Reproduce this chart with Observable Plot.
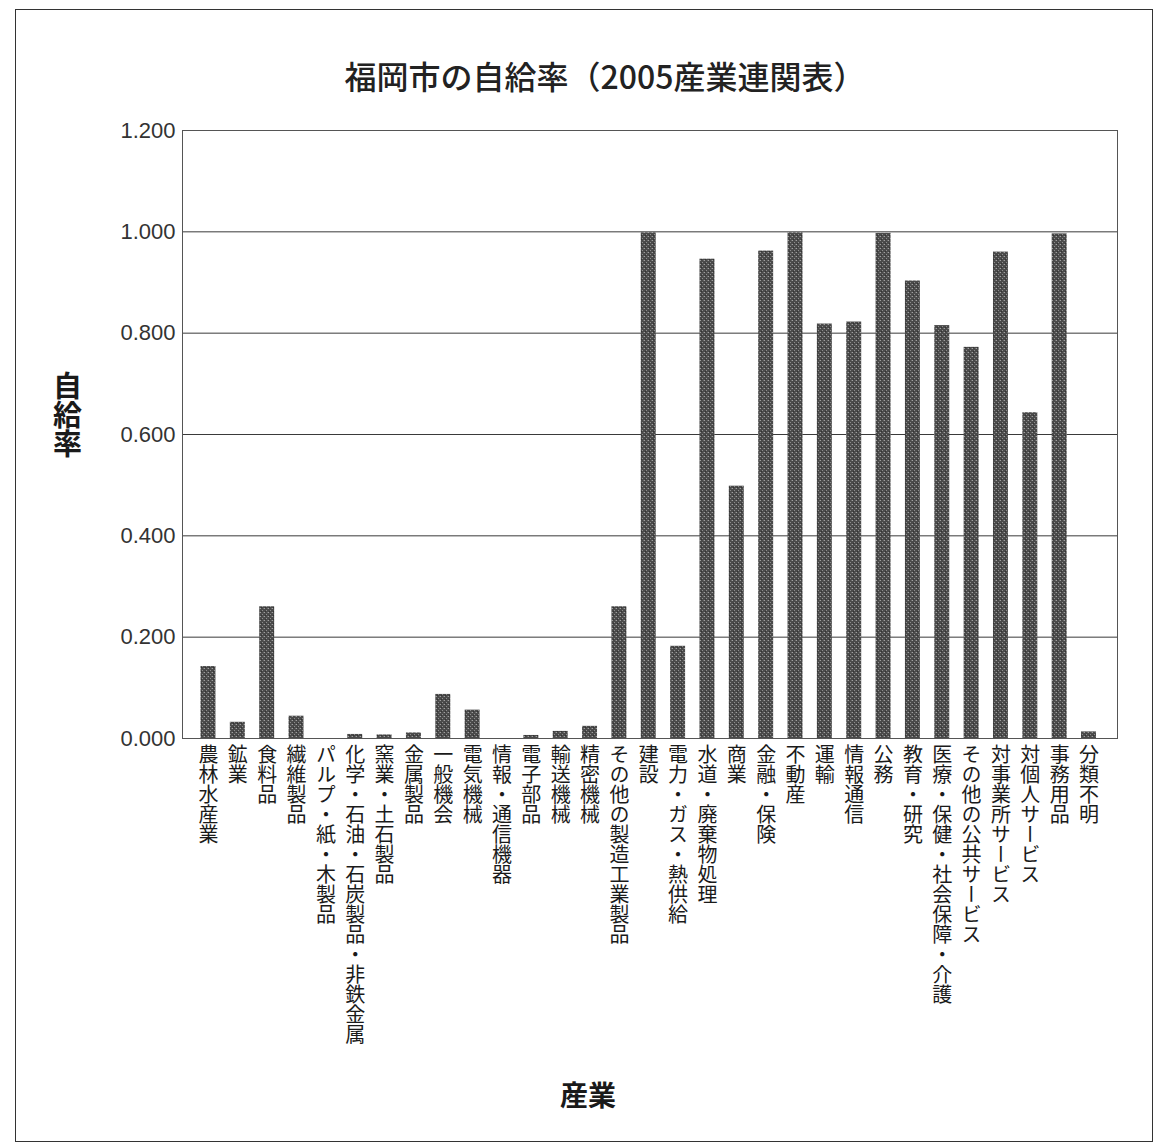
<!DOCTYPE html>
<html>
<head>
<meta charset="utf-8">
<script src="https://cdn.jsdelivr.net/npm/d3@7"></script>
<script src="https://cdn.jsdelivr.net/npm/@observablehq/plot@0.6"></script>
<style>
  html, body { margin: 0; padding: 0; background: #fff; }
  #wrap { position: relative; width: 1156px; height: 1142px; overflow: hidden; }
  #border { position: absolute; left: 15px; top: 9px; width: 1138px; height: 1133px;
            border: 1.5px solid #333; box-sizing: border-box; pointer-events: none; }
</style>
</head>
<body>
<div id="wrap"><div id="border"></div></div>
<script>
// 産業部門（2005年産業連関表の部門分類）
const industries = [
  "農林水産業", "鉱業", "食料品", "繊維製品", "パルプ・紙・木製品",
  "化学・石油・石炭製品・非鉄金属", "窯業・土石製品", "金属製品", "一般機会", "電気機械",
  "情報・通信機器", "電子部品", "輸送機械", "精密機械", "その他の製造工業製品",
  "建設", "電力・ガス・熱供給", "水道・廃棄物処理", "商業", "金融・保険",
  "不動産", "運輸", "情報通信", "公務", "教育・研究",
  "医療・保健・社会保障・介護", "その他の公共サービス", "対事業所サービス", "対個人サービス", "事務用品",
  "分類不明"
];

// 福岡市の自給率
const selfSufficiency = [
  0.142, 0.032, 0.260, 0.044, 0.000,
  0.008, 0.007, 0.011, 0.087, 0.056,
  0.000, 0.006, 0.014, 0.024, 0.260,
  0.998, 0.182, 0.946, 0.498, 0.962,
  0.998, 0.818, 0.822, 0.997, 0.903,
  0.815, 0.772, 0.960, 0.643, 0.996,
  0.013
];

const yTicks = [0, 0.2, 0.4, 0.6, 0.8, 1.0, 1.2];

const titleText = "福岡市の自給率（2005産業連関表）";
const yLabelText = "自給率";
const xLabelText = "産業";

const rows = industries.map((name, i) => ({name, value: selfSufficiency[i]}));

const cjkFont = "'Noto Sans CJK JP', 'Noto Sans', sans-serif";
const latinFont = "'Liberation Sans', Arial, sans-serif";

// stippled fill used for the bars
function barTexture() {
  const defs = d3.create("svg:defs");
  const p = defs.append("pattern")
    .attr("id", "bar-texture")
    .attr("width", 4).attr("height", 4)
    .attr("patternUnits", "userSpaceOnUse");
  p.append("rect").attr("width", 4).attr("height", 4).attr("fill", "#4a4a4a");
  p.append("rect").attr("x", 0).attr("y", 0).attr("width", 1).attr("height", 1).attr("fill", "#a0a0a0");
  p.append("rect").attr("x", 2).attr("y", 2).attr("width", 1).attr("height", 1).attr("fill", "#8e8e8e");
  p.append("rect").attr("x", 3).attr("y", 0).attr("width", 1).attr("height", 1).attr("fill", "#6a6a6a");
  p.append("rect").attr("x", 1).attr("y", 3).attr("width", 1).attr("height", 1).attr("fill", "#333");
  return defs.node();
}

const chart = Plot.plot({
  width: 1156,
  height: 1142,
  marginLeft: 182,
  marginRight: 39,
  marginTop: 130,
  marginBottom: 404,
  style: {background: "transparent", fontFamily: cjkFont},
  x: {domain: industries, range: [193.3, 1103.2], paddingInner: 0.49, paddingOuter: 0.245, round: false, axis: null},
  y: {domain: [0, 1.2], axis: null},
  marks: [
    barTexture,
    Plot.gridY(yTicks, {stroke: "#3a3a3a", strokeOpacity: 1, strokeWidth: 1}),
    Plot.frame({stroke: "#555", strokeWidth: 1}),
    Plot.barY(rows, {x: "name", y: "value", fill: "url(#bar-texture)"}),
    Plot.axisY(yTicks, {
      tickSize: 0, tickPadding: 7, tickFormat: d3.format(".3f"),
      fontSize: 22, fontFamily: latinFont, fill: "#333", label: null
    }),
    // category labels, written top-to-bottom under each bar
    Plot.text(rows, {
      x: "name", text: "name", frameAnchor: "bottom",
      textAnchor: "start", lineAnchor: "bottom", dy: 6,
      fontSize: 20, fontFamily: cjkFont, fill: "#1a1a1a"
    }),
    Plot.text([titleText], {
      frameAnchor: "top", dx: -45, dy: -64,
      fontSize: 32, fontWeight: 500, fontFamily: cjkFont, fill: "#222"
    }),
    Plot.text([yLabelText], {
      frameAnchor: "left", dx: -115, dy: -20,
      textAnchor: "middle", lineAnchor: "bottom",
      fontSize: 29, fontWeight: "bold", fontFamily: cjkFont, fill: "#1a1a1a"
    }),
    Plot.text([xLabelText], {
      frameAnchor: "bottom", dx: -62, dy: 367,
      fontSize: 28, fontWeight: "bold", fontFamily: cjkFont, fill: "#1a1a1a"
    })
  ]
});

// vertical writing for the category labels and the y-axis title
const verticalTexts = new Set([...industries, yLabelText]);
d3.select(chart).selectAll("text")
  .filter(function () { return verticalTexts.has(this.textContent); })
  .style("writing-mode", "vertical-rl");

document.getElementById("wrap").prepend(chart);
</script>
</body>
</html>
